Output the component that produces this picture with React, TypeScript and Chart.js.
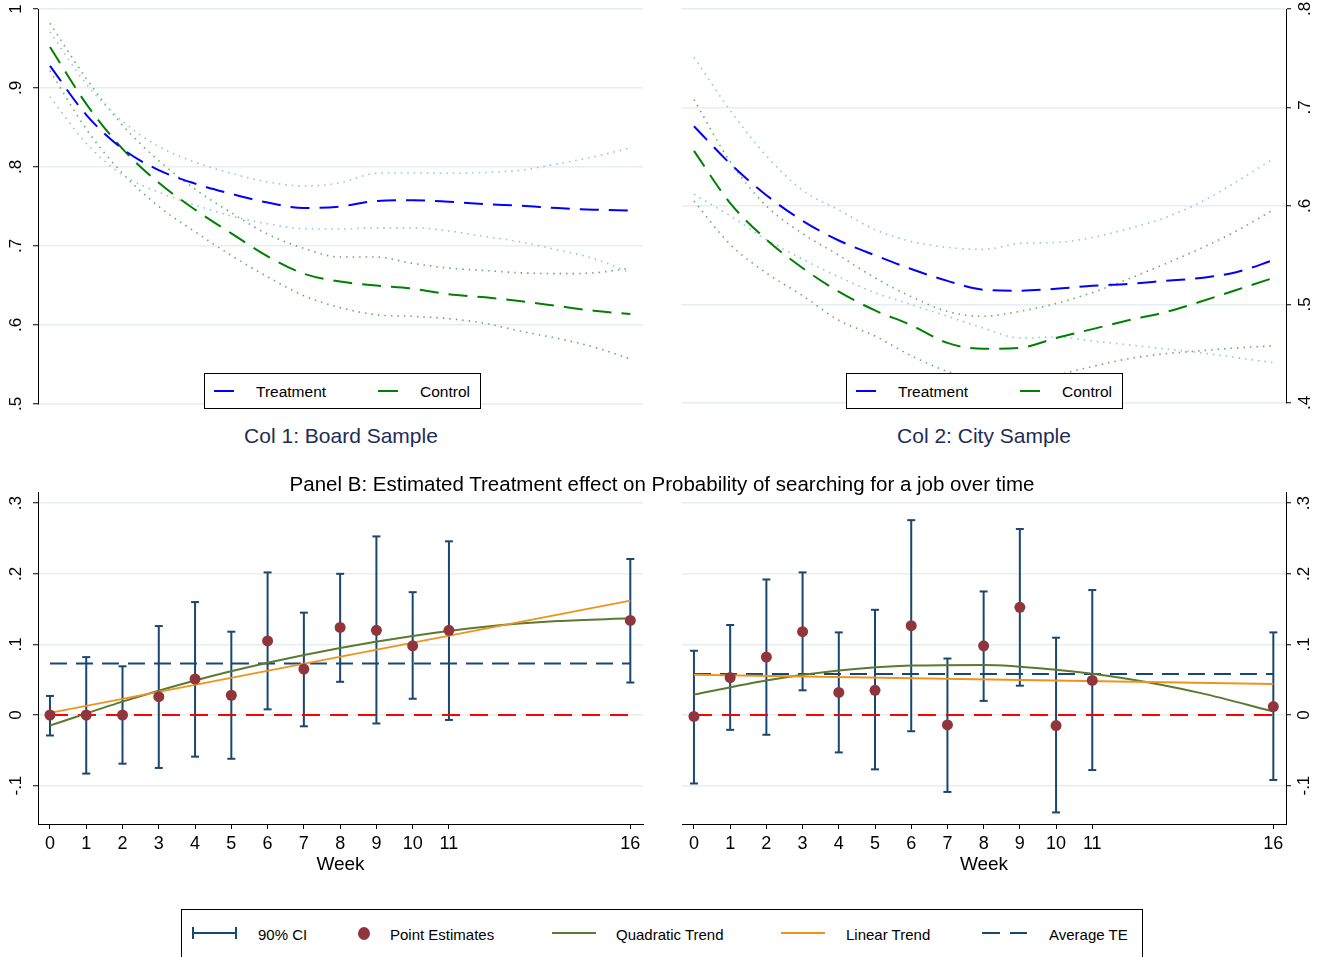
import React, { useEffect, useRef } from "react";
import { Chart, registerables } from "chart.js";

Chart.register(...registerables);

const FONT = "'Liberation Sans', Arial, Helvetica, sans-serif";
Chart.defaults.font.family = FONT;

// ---------------- Panel A (smoothed curves, weeks 0..16) ----------------
const curveWeeks = [0, 1, 2, 3, 4, 5, 6, 7, 8, 9, 10, 11, 12, 13, 14, 15, 16];

const boardTreatment = [0.928, 0.866, 0.823, 0.796, 0.779, 0.766, 0.755, 0.748, 0.75, 0.757, 0.758, 0.756, 0.753, 0.751, 0.748, 0.746, 0.745];
const boardTreatmentHi = [0.971, 0.905, 0.858, 0.826, 0.806, 0.792, 0.781, 0.776, 0.78, 0.792, 0.7925, 0.792, 0.793, 0.796, 0.804, 0.813, 0.824];
const boardTreatmentLo = [0.889, 0.83, 0.79, 0.768, 0.752, 0.738, 0.728, 0.722, 0.7215, 0.723, 0.723, 0.719, 0.712, 0.705, 0.695, 0.684, 0.666];
const boardControl = [0.952, 0.88, 0.823, 0.78, 0.746, 0.716, 0.687, 0.665, 0.655, 0.65, 0.646, 0.639, 0.635, 0.63, 0.624, 0.618, 0.614];
const boardControlHi = [0.982, 0.912, 0.853, 0.808, 0.772, 0.742, 0.715, 0.697, 0.686, 0.686, 0.678, 0.672, 0.669, 0.666, 0.665, 0.666, 0.672];
const boardControlLo = [0.922, 0.848, 0.792, 0.75, 0.718, 0.688, 0.661, 0.637, 0.622, 0.613, 0.611, 0.608, 0.602, 0.592, 0.583, 0.572, 0.557];

const cityTreatment = [0.681, 0.643, 0.611, 0.585, 0.565, 0.55, 0.536, 0.524, 0.515, 0.514, 0.516, 0.519, 0.521, 0.524, 0.527, 0.533, 0.545];
const cityTreatmentHi = [0.751, 0.697, 0.651, 0.616, 0.596, 0.576, 0.564, 0.558, 0.556, 0.562, 0.563, 0.568, 0.577, 0.588, 0.604, 0.625, 0.648];
const cityTreatmentLo = [0.612, 0.59, 0.566, 0.546, 0.528, 0.512, 0.5, 0.488, 0.476, 0.466, 0.467, 0.463, 0.459, 0.455, 0.451, 0.446, 0.441];
const cityControl = [0.656, 0.603, 0.566, 0.537, 0.513, 0.494, 0.479, 0.461, 0.455, 0.456, 0.466, 0.475, 0.484, 0.492, 0.503, 0.515, 0.527];
const cityControlHi = [0.708, 0.645, 0.6, 0.572, 0.55, 0.527, 0.508, 0.493, 0.488, 0.493, 0.501, 0.512, 0.526, 0.541, 0.557, 0.575, 0.596];
const cityControlLo = [0.605, 0.561, 0.532, 0.509, 0.484, 0.468, 0.448, 0.432, 0.422, 0.418, 0.428, 0.437, 0.445, 0.45, 0.453, 0.456, 0.458];

const boardYTicks = [0.5, 0.6, 0.7, 0.8, 0.9, 1];
const cityYTicks = [0.4, 0.5, 0.6, 0.7, 0.8];

// ---------------- Panel B (treatment effects) ----------------
const estWeeks = [0, 1, 2, 3, 4, 5, 6, 7, 8, 9, 10, 11, 16];

const boardEstimate = [0, 0, 0, 0.026, 0.051, 0.028, 0.105, 0.065, 0.124, 0.12, 0.098, 0.12, 0.134];
const boardCIHigh = [0.027, 0.082, 0.069, 0.126, 0.16, 0.118, 0.202, 0.145, 0.2, 0.253, 0.174, 0.246, 0.221];
const boardCILow = [-0.029, -0.083, -0.069, -0.075, -0.059, -0.062, 0.008, -0.016, 0.047, -0.012, 0.023, -0.007, 0.046];
const boardAverageTE = 0.073;
const boardLinearTrend = [0.003, 0.162];
const boardQuadTrend = [-0.015, 0.019, 0.049, 0.074, 0.095, 0.112, 0.125, 0.133, 0.137];

const cityEstimate = [-0.002, 0.053, 0.082, 0.118, 0.032, 0.035, 0.1265, -0.014, 0.098, 0.1525, -0.015, 0.049, 0.012];
const cityCIHigh = [0.091, 0.1275, 0.192, 0.202, 0.117, 0.149, 0.276, 0.08, 0.175, 0.2635, 0.1095, 0.177, 0.117];
const cityCILow = [-0.097, -0.021, -0.028, 0.035, -0.053, -0.077, -0.023, -0.109, 0.02, 0.0415, -0.138, -0.078, -0.092];
const cityAverageTE = 0.058;
const cityLinearTrend = [0.057, 0.044];
const cityQuadTrend = [0.029, 0.049, 0.063, 0.07, 0.071, 0.064, 0.051, 0.031, 0.005];

const linearWeeks = [0, 16];
const quadWeeks = [0, 2, 4, 6, 8, 10, 12, 14, 16];
const effectYTicks = [-0.1, 0, 0.1, 0.2, 0.3];

// ---------------- styling ----------------
const X_MIN = -0.33;
const X_MAX = 16.35;
const GRID = "#e6eef0";
const NAVY = "#1a476f";
const MAROON = "#90353b";
const OLIVE = "#5a7a32";
const ORANGE = "#ef931f";
const TITLE_NAVY = "#1e2d55";

const fmtTick = (v: number) => {
  const r = Math.round(v * 10) / 10;
  if (r === 0) return "0";
  if (r === 1) return "1";
  return r.toFixed(1).replace("0.", ".");
};

function yAxis(position: string, min: number, max: number, ticks: number[], width: number, pad: number) {
  return {
    type: "linear",
    position,
    min,
    max,
    afterBuildTicks: (s: any) => {
      s.ticks = ticks.map((v) => ({ value: v }));
    },
    afterFit: (s: any) => {
      s.width = width;
      s.paddingTop = 0;
      s.paddingBottom = 0;
      s.paddingLeft = 0;
      s.paddingRight = 0;
    },
    ticks: {
      minRotation: 90,
      maxRotation: 90,
      crossAlign: "center",
      padding: pad,
      color: "#000",
      font: { family: FONT, size: 17 },
      callback: (v: any) => fmtTick(Number(v)),
    },
    grid: { color: GRID, lineWidth: 1.5, tickLength: 5, tickColor: "#000", tickWidth: 1, drawTicks: true },
    border: { display: true, color: "#000", width: 1 },
  };
}

function curve(vals: number[], color: string, dash: number[], width: number) {
  return {
    data: curveWeeks.map((w, i) => ({ x: w, y: vals[i] })),
    borderColor: color,
    borderWidth: width,
    borderDash: dash,
    pointRadius: 0,
    fill: false,
    cubicInterpolationMode: "monotone",
  };
}

function topConfig(d: any) {
  const DOT_BLUE = "#8cc6ea";
  const DOT_GREEN = "#5fb35f";
  return {
    type: "line",
    data: {
      datasets: [
        curve(d.treat, "#0000ff", [19, 10], 2),
        curve(d.ctrl, "#008000", [19, 10], 2),
        curve(d.treatHi, DOT_BLUE, [1.5, 5], 1.6),
        curve(d.treatLo, DOT_BLUE, [1.5, 5], 1.6),
        curve(d.ctrlHi, DOT_GREEN, [1.5, 5], 1.6),
        curve(d.ctrlLo, DOT_GREEN, [1.5, 5], 1.6),
      ],
    },
    options: {
      responsive: false,
      animation: false,
      events: [],
      layout: { padding: d.padding },
      plugins: { legend: { display: false }, tooltip: { enabled: false } },
      scales: {
        x: { type: "linear", min: X_MIN, max: X_MAX, display: false },
        y: yAxis(d.pos, d.yMin, d.yMax, d.yTicks, d.yWidth, d.tickPad),
      },
    },
  };
}

function bottomConfig(d: any) {
  const ciData: any[] = [];
  estWeeks.forEach((w, i) => {
    ciData.push({ x: w, y: d.lo[i] }, { x: w, y: d.hi[i] }, { x: w, y: null });
  });
  return {
    type: "line",
    data: {
      datasets: [
        {
          data: estWeeks.map((w, i) => ({ x: w, y: d.est[i] })),
          showLine: false,
          pointRadius: 5.5,
          pointBackgroundColor: MAROON,
          pointBorderColor: MAROON,
          pointBorderWidth: 0,
          borderColor: MAROON,
        },
        {
          data: linearWeeks.map((w, i) => ({ x: w, y: d.linear[i] })),
          borderColor: ORANGE,
          borderWidth: 2,
          pointRadius: 0,
        },
        {
          data: quadWeeks.map((w, i) => ({ x: w, y: d.quad[i] })),
          borderColor: OLIVE,
          borderWidth: 2,
          pointRadius: 0,
          cubicInterpolationMode: "monotone",
        },
        {
          data: [
            { x: 0, y: d.avg },
            { x: 16, y: d.avg },
          ],
          borderColor: NAVY,
          borderWidth: 2,
          borderDash: [17, 9],
          pointRadius: 0,
        },
        {
          data: [
            { x: 0, y: 0 },
            { x: 16, y: 0 },
          ],
          borderColor: "#ff0000",
          borderWidth: 2,
          borderDash: [18, 10],
          pointRadius: 0,
        },
        {
          data: ciData,
          borderColor: NAVY,
          borderWidth: 2,
          spanGaps: false,
          pointStyle: "line",
          pointRadius: 4,
          pointBorderColor: NAVY,
          pointBorderWidth: 2,
        },
      ],
    },
    options: {
      responsive: false,
      animation: false,
      events: [],
      layout: { padding: d.padding },
      plugins: { legend: { display: false }, tooltip: { enabled: false } },
      scales: {
        x: {
          type: "linear",
          position: "bottom",
          min: X_MIN,
          max: X_MAX,
          afterBuildTicks: (s: any) => {
            s.ticks = estWeeks.map((v) => ({ value: v }));
          },
          afterFit: (s: any) => {
            s.height = 66;
            s.paddingLeft = 0;
            s.paddingRight = 0;
            s.paddingTop = 0;
            s.paddingBottom = 0;
          },
          ticks: {
            padding: 4,
            minRotation: 0,
            maxRotation: 0,
            autoSkip: false,
            color: "#000",
            font: { family: FONT, size: 18 },
            callback: (v: any) => String(v),
          },
          grid: { drawOnChartArea: false, drawTicks: true, tickLength: 5, tickColor: "#000", tickWidth: 1 },
          border: { display: true, color: "#000", width: 1 },
          title: {
            display: true,
            text: "Week",
            color: "#000",
            font: { family: FONT, size: 19 },
            padding: { top: 0, bottom: 13.6 },
          },
        },
        y: yAxis(d.pos, -0.1544, 0.3159, effectYTicks, d.yWidth, d.tickPad),
      },
    },
  };
}

function ChartCanvas({ left, top, width, height, config }: any) {
  const ref = useRef<HTMLCanvasElement | null>(null);
  useEffect(() => {
    const chart = new Chart(ref.current as HTMLCanvasElement, config);
    return () => chart.destroy();
  }, []);
  return (
    <canvas
      ref={ref}
      width={width}
      height={height}
      style={{ position: "absolute", left, top, width, height, display: "block" }}
    />
  );
}

const textStyle = (left: number, top: number, size: number, color: string, center: boolean): any => ({
  position: "absolute",
  left,
  top,
  transform: center ? "translate(-50%, -50%)" : "translateY(-50%)",
  fontSize: size,
  lineHeight: 1,
  fontFamily: FONT,
  color,
  whiteSpace: "nowrap",
});

function TopLegend({ left }: { left: number }) {
  return (
    <div
      style={{
        position: "absolute",
        left,
        top: 373,
        width: 277,
        height: 36,
        border: "1px solid #000",
        background: "#fff",
        boxSizing: "border-box",
      }}
    >
      <div style={{ position: "absolute", left: 9, top: 16, width: 20, height: 2, background: "#0000ff" }} />
      <div style={textStyle(51, 17.5, 15.5, "#000", false)}>Treatment</div>
      <div style={{ position: "absolute", left: 173, top: 16, width: 20, height: 2, background: "#008000" }} />
      <div style={textStyle(215, 17.5, 15.5, "#000", false)}>Control</div>
    </div>
  );
}

function BottomLegend() {
  const cy = 933;
  return (
    <>
      <div
        style={{
          position: "absolute",
          left: 181,
          top: 909,
          width: 962,
          height: 70,
          border: "1px solid #000",
          background: "#fff",
          boxSizing: "border-box",
        }}
      />
      <div style={{ position: "absolute", left: 192, top: cy - 1, width: 45, height: 2, background: NAVY }} />
      <div style={{ position: "absolute", left: 192, top: cy - 6, width: 2, height: 12, background: NAVY }} />
      <div style={{ position: "absolute", left: 235, top: cy - 6, width: 2, height: 12, background: NAVY }} />
      <div style={textStyle(258, cy + 0.5, 15, "#000", false)}>90% CI</div>
      <div
        style={{
          position: "absolute",
          left: 358,
          top: cy - 6.5,
          width: 12,
          height: 13,
          borderRadius: "50%",
          background: MAROON,
        }}
      />
      <div style={textStyle(390, cy + 0.5, 15, "#000", false)}>Point Estimates</div>
      <div style={{ position: "absolute", left: 552, top: cy - 1, width: 44, height: 2, background: OLIVE }} />
      <div style={textStyle(616, cy + 0.5, 15, "#000", false)}>Quadratic Trend</div>
      <div style={{ position: "absolute", left: 781, top: cy - 1, width: 44, height: 2, background: ORANGE }} />
      <div style={textStyle(846, cy + 0.5, 15, "#000", false)}>Linear Trend</div>
      <div style={{ position: "absolute", left: 982, top: cy - 1, width: 18, height: 2, background: NAVY }} />
      <div style={{ position: "absolute", left: 1010, top: cy - 1, width: 17, height: 2, background: NAVY }} />
      <div style={textStyle(1049, cy + 0.5, 15, "#000", false)}>Average TE</div>
    </>
  );
}

export default function App() {
  const boardTop = topConfig({
    treat: boardTreatment,
    treatHi: boardTreatmentHi,
    treatLo: boardTreatmentLo,
    ctrl: boardControl,
    ctrlHi: boardControlHi,
    ctrlLo: boardControlLo,
    yMin: 0.5,
    yMax: 1.0,
    yTicks: boardYTicks,
    pos: "left",
    yWidth: 38,
    tickPad: 10,
    padding: { left: 0, right: 17, top: 9, bottom: 16 },
  });
  const cityTop = topConfig({
    treat: cityTreatment,
    treatHi: cityTreatmentHi,
    treatLo: cityTreatmentLo,
    ctrl: cityControl,
    ctrlHi: cityControlHi,
    ctrlLo: cityControlLo,
    yMin: 0.4,
    yMax: 0.8,
    yTicks: cityYTicks,
    pos: "right",
    yWidth: 34,
    tickPad: 7,
    padding: { left: 22, right: 5, top: 9, bottom: 17 },
  });
  const boardBottom = bottomConfig({
    est: boardEstimate,
    hi: boardCIHigh,
    lo: boardCILow,
    avg: boardAverageTE,
    linear: boardLinearTrend,
    quad: boardQuadTrend,
    pos: "left",
    yWidth: 38,
    tickPad: 7,
    padding: { left: 0, right: 17, top: 12, bottom: 0 },
  });
  const cityBottom = bottomConfig({
    est: cityEstimate,
    hi: cityCIHigh,
    lo: cityCILow,
    avg: cityAverageTE,
    linear: cityLinearTrend,
    quad: cityQuadTrend,
    pos: "right",
    yWidth: 34,
    tickPad: 3,
    padding: { left: 22, right: 5, top: 12, bottom: 0 },
  });

  return (
    <div
      style={{
        position: "absolute",
        left: 0,
        top: 0,
        width: 1325,
        height: 957,
        overflow: "hidden",
        background: "#fff",
        fontFamily: FONT,
      }}
    >
      <ChartCanvas left={0} top={0} width={660} height={420} config={boardTop} />
      <ChartCanvas left={660} top={0} width={665} height={420} config={cityTop} />
      <ChartCanvas left={0} top={480} width={660} height={410} config={boardBottom} />
      <ChartCanvas left={660} top={480} width={665} height={410} config={cityBottom} />

      <TopLegend left={204} />
      <TopLegend left={846} />

      <div style={textStyle(341, 435, 21, TITLE_NAVY, true)}>Col 1: Board Sample</div>
      <div style={textStyle(984, 435, 21, TITLE_NAVY, true)}>Col 2: City Sample</div>
      <div style={textStyle(662, 483.5, 20.5, "#000", true)}>
        Panel B: Estimated Treatment effect on Probability of searching for a job over time
      </div>

      <BottomLegend />
    </div>
  );
}
